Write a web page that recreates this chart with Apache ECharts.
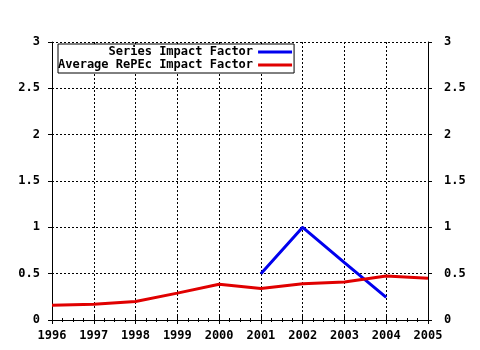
<!DOCTYPE html>
<html><head><meta charset="utf-8">
<script src="https://cdn.jsdelivr.net/npm/echarts@6/dist/echarts.min.js"></script>
<style>html,body{margin:0;padding:0;background:#fff}#c{width:480px;height:350px}</style>
</head><body><div id="c"></div>
<script>
const years = [1996,1997,1998,1999,2000,2001,2002,2003,2004,2005];
const seriesImpact = [null,null,null,null,null,0.5,1.0,0.62,0.245,null];
const avgImpact = [0.16,0.17,0.20,0.29,0.385,0.34,0.39,0.41,0.475,0.45];
const seriesNames = ['Series Impact Factor','Average RePEc Impact Factor'];
const yTicks = {min:0,max:3,interval:0.5};

const font = '"DejaVu Sans Mono", "Liberation Mono", monospace';
const pair = arr => years.map((y,i)=>[y,arr[i]]);
const chart = echarts.init(document.getElementById('c'), null, {renderer:'canvas'});
const yLabel = v => String(v);
chart.setOption({
  animation:false,
  backgroundColor:'#fff',
  grid:{left:52,right:52,top:42,bottom:30},
  legend:{
    orient:'vertical', left:58, top:44, padding:[2,2,2,0],
    backgroundColor:'#fff',
    borderColor:'#000', borderWidth:1, itemGap:1,
    icon:'rect', itemWidth:34, itemHeight:3, align:'right',
    formatter: n => n.padStart(27, ' '),
    textStyle:{fontFamily:font,fontSize:12,fontWeight:'bold',color:'#000'},
    data:seriesNames
  },
  xAxis:[{
    type:'value', min:1996, max:2005, interval:1,
    axisLine:{lineStyle:{color:'#000',width:1}},
    axisTick:{inside:false,length:4,lineStyle:{color:'#000'}},
    minorTick:{show:true,splitNumber:4,length:2,lineStyle:{color:'#000'}},
    axisLabel:{formatter:v=>String(v),color:'#000',fontFamily:font,fontSize:12,fontWeight:'bold',margin:10},
    splitLine:{show:true,lineStyle:{color:'#000',type:[2,2],width:1}}
  },{
    type:'value', position:'top', min:1996, max:2005, interval:1,
    axisLine:{show:true,lineStyle:{color:'#000',width:1}},
    axisTick:{inside:false,length:4,lineStyle:{color:'#000'}},
    minorTick:{show:true,splitNumber:4,length:2,lineStyle:{color:'#000'}},
    axisLabel:{show:false}, splitLine:{show:false}
  }],
  yAxis:[{
    type:'value', ...yTicks, position:'left',
    axisLine:{show:true,lineStyle:{color:'#000',width:1}},
    axisTick:{show:true,length:4,lineStyle:{color:'#000'}},
    axisLabel:{formatter:yLabel,color:'#000',fontFamily:font,fontSize:12,fontWeight:'bold',margin:12},
    splitLine:{show:true,lineStyle:{color:'#000',type:[2,2],width:1}}
  },{
    type:'value', ...yTicks, position:'right',
    axisLine:{show:true,lineStyle:{color:'#000',width:1}},
    axisTick:{show:true,length:4,lineStyle:{color:'#000'}},
    axisLabel:{formatter:yLabel,color:'#000',fontFamily:font,fontSize:12,fontWeight:'bold',margin:16},
    splitLine:{show:false}
  }],
  series:[{
    name:seriesNames[0], type:'line', data:pair(seriesImpact), showSymbol:false,
    connectNulls:false, color:'#0000ee', lineStyle:{width:3,color:'#0000ee'}
  },{
    name:seriesNames[1], type:'line', data:pair(avgImpact), showSymbol:false,
    color:'#e00000', lineStyle:{width:3,color:'#e00000'}
  }]
});
</script></body></html>
